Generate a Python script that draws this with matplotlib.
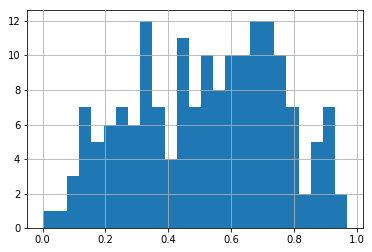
import numpy as np
import matplotlib
matplotlib.use('Agg')
import matplotlib.pyplot as plt

# histogram: 25 equal bins from 0.0 to 0.97
bin_start = 0.0
bin_end = 0.97
counts = [1, 1, 3, 7, 5, 6, 7, 6, 12, 7, 4, 11, 7,
          10, 8, 10, 10, 12, 12, 10, 7, 2, 5, 7, 2]

edges = np.linspace(bin_start, bin_end, len(counts) + 1)

fig = plt.figure(figsize=(372 / 72, 252 / 72), dpi=72)
ax = fig.add_axes([0.0734, 0.094, 0.9016, 0.865])

ax.hist(edges[:-1], bins=edges, weights=counts, color='#1f77b4')
# grid drawn over the bars, like pandas' .hist()
ax.grid(True, color='#b0b0b0', linewidth=0.8)
ax.set_axisbelow(False)
ax.set_ylim(0, 12.6)
ax.set_yticks([0, 2, 4, 6, 8, 10, 12])
ax.set_xticks([0.0, 0.2, 0.4, 0.6, 0.8, 1.0])

fig.savefig('out.png', dpi=72)
